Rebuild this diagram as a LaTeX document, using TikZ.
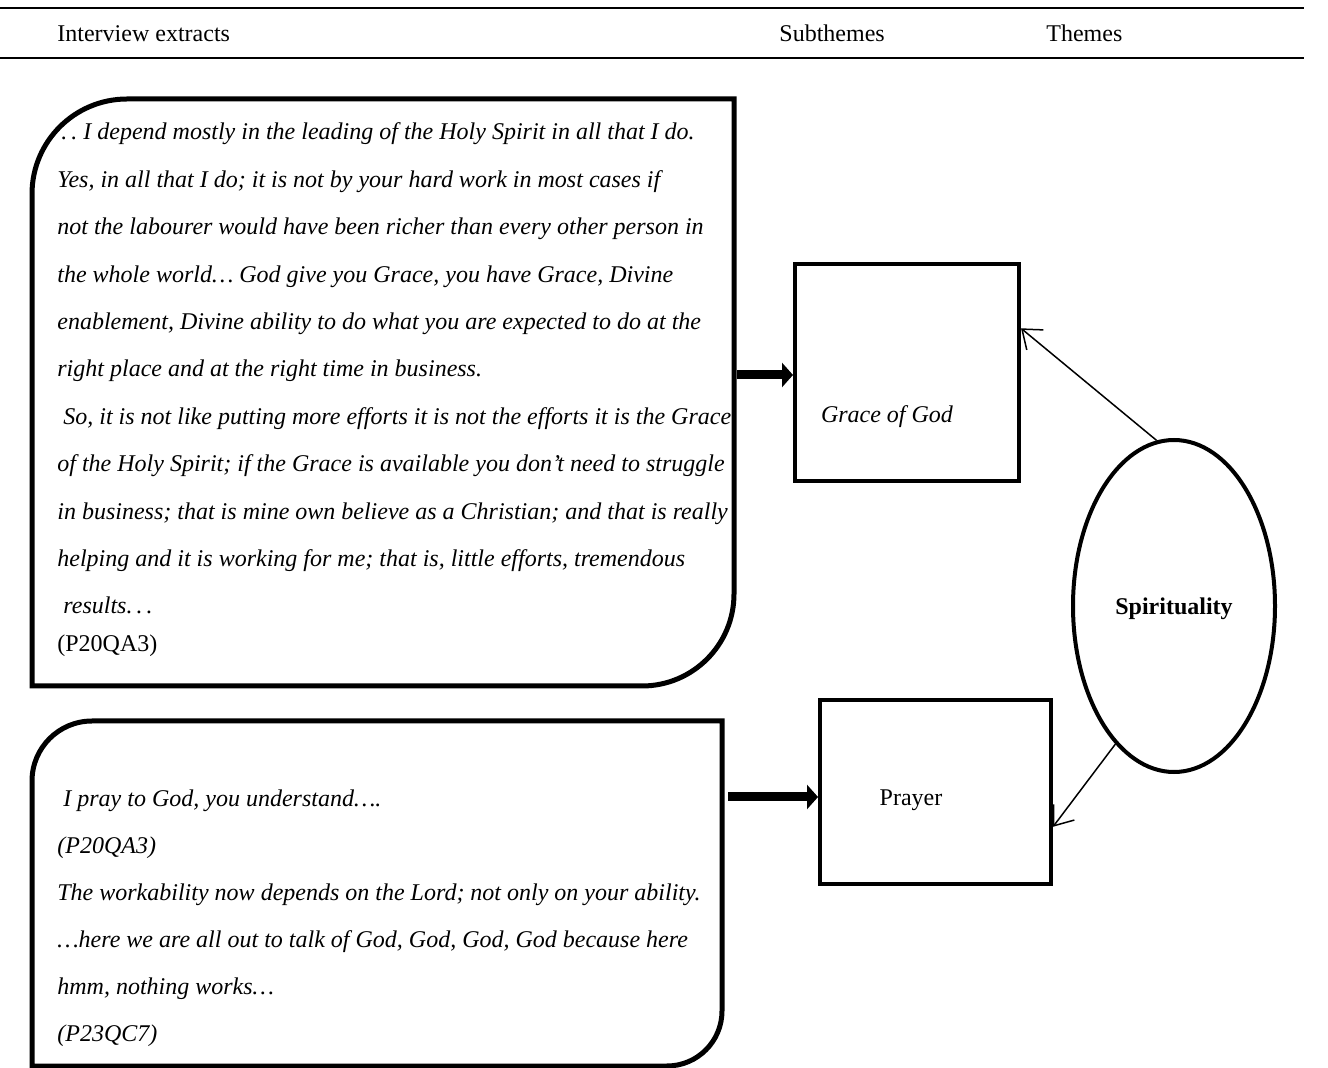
\documentclass[tikz,border=0pt]{standalone}
\usepackage{fontspec}
\setmainfont{Liberation Serif}
\usetikzlibrary{arrows.meta,shapes.geometric,calc}

\tikzset{
  headrule/.style={line width=1.3pt},
  extbox/.style={line width=2.5pt},
  subbox/.style={draw, line width=2pt, inner sep=0pt},
  themeell/.style={draw, ellipse, line width=2pt, inner sep=0pt, text depth=0pt, font=\fontsize{12}{14}\selectfont\bfseries},
  bigarrow/.style={line width=4.5pt, -{Triangle[length=5.5pt,width=12pt]}},
  thinarrow/.style={line width=0.75pt, -{Straight Barb[length=8.5pt,width=13pt]}},
  extract/.style={anchor=base west, inner sep=0pt, align=left},
  plain/.style={anchor=base west, inner sep=0pt, font=\fontsize{12}{14}\selectfont},
}

\begin{document}
\begin{tikzpicture}[x=0.5pt,y=-0.5pt]
		\useasboundingbox (0,0) rectangle (1328,1068);
		
		%%%%% header %%%%%
		\draw[headrule] (0,8) -- (1304,8);
		\draw[headrule] (0,58) -- (1304,58);
		\node[plain] (hdext) at (57,42) {Interview extracts};
		\node[plain] (hdsub) at (779,42) {Subthemes};
		\node[plain] (hdthm) at (1046,42) {Themes};
		
		%%%%% extract boxes %%%%%
		\draw[extbox] (32,686) -- (32,194) arc[start angle=180,end angle=270,radius=95]
		  -- (734,99) -- (734,594) arc[start angle=0,end angle=90,radius=92] -- cycle;
		\draw[extbox] (32,1066) -- (32,781) arc[start angle=180,end angle=270,radius=60]
		  -- (722,721) -- (722,1011) arc[start angle=0,end angle=90,radius=55] -- cycle;
		
		% base anchor sits on the last line
		\node[extract, font=\fontsize{12}{23.7}\selectfont\itshape] (ext1) at (57,652) {%
		  \hspace{2pt}.\hspace{2pt}.\hspace{3pt}I depend mostly in the leading of the Holy Spirit in all that I do.\\
		  Yes, in all that I do; it is not by your hard work in most cases if\\
		  not the labourer would have been richer than every other person in\\
		  the whole world… God give you Grace, you have Grace, Divine\\
		  enablement, Divine ability to do what you are expected to do at the\\
		  right place and at the right time in business.\\
		  \ So, it is not like putting more efforts it is not the efforts it is the Grace\\
		  of the Holy Spirit; if the Grace is available you don’t need to struggle\\
		  in business; that is mine own believe as a Christian; and that is really\\
		  helping and it is working for me; that is, little efforts, tremendous\\
		  \ results.\hspace{2pt}.\hspace{2pt}.\\[-4.7pt]
		  \upshape (P20QA3)};
		
		\node[extract, font=\fontsize{12}{23.5}\selectfont\itshape] (ext2) at (57,1041) {%
		  \hspace{3pt}I pray to God, you understand….\\
		  (P20QA3)\\
		  The workability now depends on the Lord; not only on your ability.\\
		  …here we are all out to talk of God, God, God, God because here\\
		  hmm, nothing works…\\
		  (P23QC7)};
		
		%%%%% subthemes and theme %%%%%
		\node[subbox, minimum width=112pt, minimum height=108.5pt] (grace) at (907,372.5) {};
		\node[plain, anchor=center, font=\fontsize{12}{14}\selectfont\itshape] (gracetxt) at (887,417) {Grace of God};
		\node[subbox, minimum width=115.5pt, minimum height=92pt] (prayer) at (935.5,792) {};
		\node[plain, anchor=center] (prayertxt) at (911,800) {Prayer};
		\node[themeell, minimum width=101pt, minimum height=166pt] (spirit) at (1174,606) {Spirituality};
		
		%%%%% connectors %%%%%
		\coordinate (e1) at (737,375);
		\coordinate (e2) at (728,797);
		\draw[bigarrow] (e1) -- (e1 -| grace.west);
		\draw[bigarrow] (e2) -- (e2 -| prayer.west);
		\draw[thinarrow] (spirit.96) -- ($(grace.north east)!0.3!(grace.south east)$);
		\draw[thinarrow] (spirit.247) -- ($(prayer.north east)!0.685!(prayer.south east)$);
		
\end{tikzpicture}
\end{document}
